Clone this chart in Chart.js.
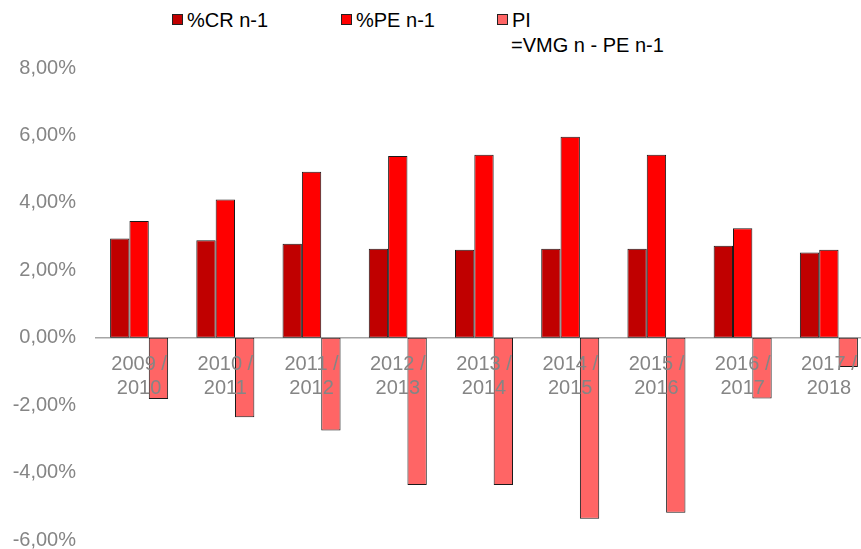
<!DOCTYPE html>
<html lang="fr">
<head>
<meta charset="UTF-8"/>
<title>%CR / %PE / PI</title>
<script src="https://cdn.jsdelivr.net/npm/chart.js"></script>
<style>
  html, body { margin: 0; padding: 0; background: #fff; overflow: hidden; }
  body { width: 861px; height: 549px; position: relative; font-family: 'Liberation Sans', Arial, sans-serif; }
  #wrap { position: absolute; left: 0; top: 0; width: 900px; height: 572px; }
  .legend { position: absolute; top: 8px; font-size: 20px; line-height: 25px; color: #000; white-space: nowrap; }
  .legend .box { display: inline-block; width: 9px; height: 9px; border: 1px solid #222; margin-right: 4px; vertical-align: 2px; }
  .legend .second { padding-left: 14px; }
</style>
</head>
<body>
<div id="legend"></div>
<div id="wrap"><canvas id="chart" width="900" height="572"></canvas></div>

<script>
const categories = [
  ['2009 /', '2010'], ['2010 /', '2011'], ['2011 /', '2012'],
  ['2012 /', '2013'], ['2013 /', '2014'], ['2014 /', '2015'],
  ['2015 /', '2016'], ['2016 /', '2017'], ['2017 /', '2018']
];
const crValues = [2.94, 2.89, 2.79, 2.64, 2.61, 2.64, 2.64, 2.73, 2.53];
const peValues = [3.46, 4.10, 4.92, 5.39, 5.43, 5.96, 5.43, 3.25, 2.61];
const piValues = [-1.82, -2.36, -2.75, -4.37, -4.37, -5.37, -5.19, -1.80, -0.87];

const seriesNames = ['%CR n-1', '%PE n-1', ['PI', '=VMG n - PE n-1']];
const seriesColors = ['#C00000', '#FF0000', '#FF6565'];
const legendLeft = [172, 341, 497];

Chart.defaults.font.family = "'Liberation Sans', Arial, sans-serif";

function pct(v) {
  return v.toFixed(2).replace('.', ',') + '%';
}

// legend as html, the third entry wraps on two lines
const legendEl = document.getElementById('legend');
seriesNames.forEach((name, i) => {
  const lines = Array.isArray(name) ? name : [name];
  const d = document.createElement('div');
  d.className = 'legend';
  d.style.left = legendLeft[i] + 'px';
  d.innerHTML = '<span class="box" style="background:' + seriesColors[i] + '"></span>' + lines[0] +
    lines.slice(1).map(l => '<div class="second">' + l + '</div>').join('');
  legendEl.appendChild(d);
});

const values = [crValues, peValues, piValues];

new Chart(document.getElementById('chart'), {
  type: 'bar',
  data: {
    labels: categories,
    datasets: values.map((v, i) => ({
      label: Array.isArray(seriesNames[i]) ? seriesNames[i].join(' ') : seriesNames[i],
      data: v,
      backgroundColor: seriesColors[i],
      borderColor: '#1a1a1a',
      borderWidth: 1,
      borderSkipped: false,
      categoryPercentage: 0.673,
      barPercentage: 1
    }))
  },
  options: {
    responsive: false,
    devicePixelRatio: 1,
    animation: false,
    layout: { padding: { top: 68, bottom: 10, right: 28, left: 0 } },
    plugins: {
      legend: { display: false },
      tooltip: { enabled: false }
    },
    scales: {
      x: {
        position: { y: 0 },
        grid: { display: false },
        border: { color: '#a6a6a6', width: 1.5 },
        ticks: {
          z: 1,
          color: '#858585',
          font: { size: 20, lineHeight: 1.2 },
          padding: 7,
          maxRotation: 0,
          autoSkip: false
        }
      },
      y: {
        min: -6,
        max: 8,
        grid: { display: false, drawTicks: false },
        border: { display: false },
        afterFit: scale => { scale.width = 96; },
        ticks: {
          stepSize: 2,
          color: '#858585',
          font: { size: 20 },
          padding: 20,
          callback: v => pct(v)
        }
      }
    }
  }
});
</script>
</body>
</html>
